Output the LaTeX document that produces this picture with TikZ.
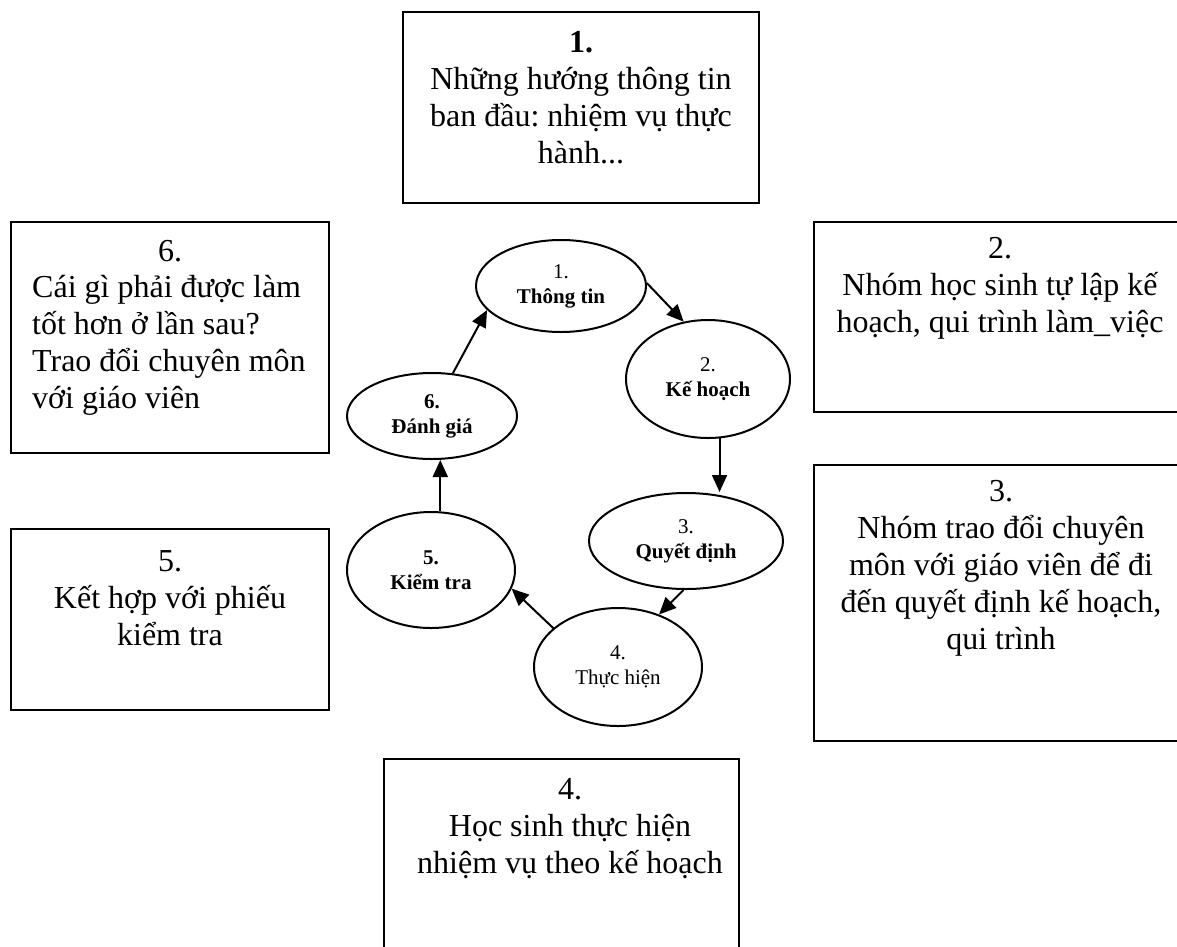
\documentclass[tikz,border=0pt]{standalone}
\usepackage{fontspec}
\setmainfont{Liberation Serif}
\frenchspacing
\usetikzlibrary{shapes.geometric,arrows.meta}
\begin{document}
\begin{tikzpicture}[x=1pt,y=-1pt,
  box/.style={draw,line width=1.8pt,rectangle,inner sep=0pt,outer sep=0pt},
  boxtext/.style={align=center,inner sep=0pt,font=\fontsize{32}{37}\selectfont},
  stage/.style={draw,line width=2pt,ellipse,inner sep=0pt,align=center,
    font=\fontsize{21}{25}\selectfont},
  flow/.style={line width=2pt,-{Triangle[length=17pt,width=15pt]}}]
\useasboundingbox (0,0) rectangle (1177,946);
\fill[white] (0,0) rectangle (1177,946);

% outer description boxes
\node[box,minimum width=356pt,minimum height=191pt] (b1) at (581,107.5) {};
\node[box,minimum width=376pt,minimum height=190pt] (b2) at (1002,317) {};
\node[box,minimum width=376pt,minimum height=276pt] (b3) at (1002,603) {};
\node[box,minimum width=355pt,minimum height=201pt] (b4) at (561.5,859.5) {};
\node[box,minimum width=318pt,minimum height=181pt] (b5) at (170,619.5) {};
\node[box,minimum width=318pt,minimum height=231pt] (b6) at (170,337.5) {};

% box texts, placed by the baseline of their last line
\node[boxtext,anchor=base] (t1) at (581,163) {\textbf{1.}\\Những hướng thông tin\\ban đầu: nhiệm vụ thực\\hành...};
\node[boxtext,anchor=base] (t2) at (1000,332) {2.\\Nhóm học sinh tự lập kế\\hoạch, qui trình làm\_việc};
\node[boxtext,anchor=base] (t3) at (1001,649) {3.\\Nhóm trao đổi chuyên\\môn với giáo viên để đi\\đến quyết định kế hoạch,\\qui trình};
\node[boxtext,anchor=base] (t4) at (570,873) {4.\\Học sinh thực hiện\\nhiệm vụ theo kế hoạch};
\node[boxtext,anchor=base] (t5) at (170,645) {5.\\Kết hợp với phiếu\\kiểm tra};
\node[boxtext,anchor=base] (n6) at (170,261) {6.};
\node[boxtext,align=left,anchor=base west] (t6) at (32,408) {Cái gì phải được làm\\tốt hơn ở lần sau?\\Trao đổi chuyên môn\\với giáo viên};

% cycle of stages
\node[stage,minimum width=170pt,minimum height=92pt] (e1) at (561,286) {1.\\\textbf{Thông tin}};
\node[stage,minimum width=164pt,minimum height=118pt] (e2) at (708,379) {2.\\\textbf{Kế hoạch}};
\node[stage,minimum width=194pt,minimum height=96pt] (e3) at (686,541) {3.\\\textbf{Quyết định}};
\node[stage,minimum width=168pt,minimum height=118pt] (e4) at (618,667) {4.\\Thực hiện};
\node[stage,minimum width=168pt,minimum height=116pt] (e5) at (431,570) {\textbf{5.}\\\textbf{Kiểm tra}};
\node[stage,minimum width=170pt,minimum height=86pt] (e6) at (432,416) {\textbf{6.}\\\textbf{Đánh giá}};

\draw[flow] (e1.2) -- (e2.113);
\draw[flow] (e2.281) -- (e2.281 |- e3.north);
\draw[flow] (e3.267) -- (e4.52);
\draw[flow] (e4.149) -- (e5.347);
\draw[flow] (e5.81) -- (e5.81 |- e6.south);
\draw[flow] (e6.64) -- (e1.198);
\end{tikzpicture}
\end{document}
